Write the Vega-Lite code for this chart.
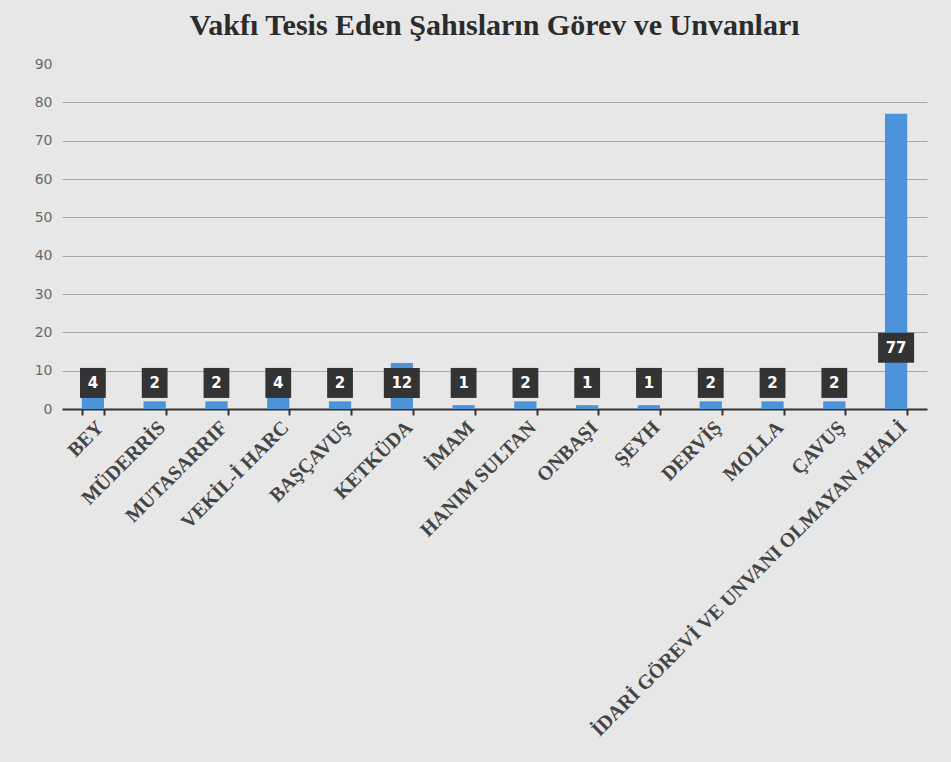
{
  "$schema": "https://vega.github.io/schema/vega-lite/v6.json",
  "autosize": "none",
  "width": 865,
  "height": 345,
  "padding": {"left": 62, "top": 64, "right": 24, "bottom": 353},
  "background": "#e7e7e7",
  "title": {
    "text": "Vakfı Tesis Eden Şahısların Görev ve Unvanları",
    "font": "Liberation Serif",
    "fontSize": 30,
    "fontWeight": "bold",
    "color": "#2b2b2b",
    "anchor": "middle",
    "offset": 16
  },
  "config": {
    "view": {"stroke": null},
    "axisY": {
      "title": null,
      "values": [0, 10, 20, 30, 40, 50, 60, 70, 80, 90],
      "labelFont": "DejaVu Sans",
      "labelFontSize": 14,
      "labelColor": "#6a6a6a",
      "labelPadding": 10,
      "ticks": false,
      "domain": false,
      "grid": true,
      "gridColor": "#a8a8a8",
      "gridWidth": 1.2,
      "gridOpacity": {"condition": {"test": "datum.value === 90 || datum.value === 0", "value": 0}, "value": 1}
    }
  },
  "data": {
    "values": [
      {"unvan": "BEY", "sayi": 4},
      {"unvan": "MÜDERRİS", "sayi": 2},
      {"unvan": "MUTASARRIF", "sayi": 2},
      {"unvan": "VEKİL-İ HARC", "sayi": 4},
      {"unvan": "BAŞÇAVUŞ", "sayi": 2},
      {"unvan": "KETKÜDA", "sayi": 12},
      {"unvan": "İMAM", "sayi": 1},
      {"unvan": "HANIM SULTAN", "sayi": 2},
      {"unvan": "ONBAŞI", "sayi": 1},
      {"unvan": "ŞEYH", "sayi": 1},
      {"unvan": "DERVİŞ", "sayi": 2},
      {"unvan": "MOLLA", "sayi": 2},
      {"unvan": "ÇAVUŞ", "sayi": 2},
      {"unvan": "İDARİ GÖREVİ VE UNVANI OLMAYAN AHALİ", "sayi": 77}
    ]
  },
  "encoding": {
    "x": {
      "field": "unvan",
      "type": "nominal",
      "sort": null,
      "scale": {"paddingInner": 0.64, "paddingOuter": 0.32},
      "axis": {
        "title": null,
        "labelAngle": -45,
        "labelFont": "Liberation Serif",
        "labelFontWeight": "bold",
        "labelFontSize": 20,
        "labelColor": "#444444",
        "labelLimit": 0,
        "labelPadding": 2,
        "tickBand": "extent",
        "tickColor": "#333333",
        "tickSize": 6,
        "tickWidth": 2,
        "domainColor": "#333333",
        "domainWidth": 2
      }
    }
  },
  "layer": [
    {
      "mark": {"type": "bar", "color": "#4d93d9"},
      "encoding": {
        "y": {"field": "sayi", "type": "quantitative", "scale": {"domain": [0, 90]}, "title": null}
      }
    },
    {
      "transform": [{"calculate": "datum.sayi > 50 ? 16 : 6.8", "as": "etiketY"}],
      "mark": {"type": "point", "filled": true, "color": "#333333", "opacity": 1, "size": 900},
      "encoding": {
        "y": {"field": "etiketY", "type": "quantitative", "title": null},
        "shape": {
          "condition": {"test": "datum.sayi >= 10", "value": "M-1.2,-1H1.2V1H-1.2Z"},
          "value": "M-0.86,-1H0.86V1H-0.86Z"
        }
      }
    },
    {
      "transform": [{"calculate": "datum.sayi > 50 ? 16 : 6.8", "as": "etiketY"}],
      "mark": {"type": "text", "color": "white", "font": "DejaVu Sans", "fontWeight": "bold", "fontSize": 15, "baseline": "middle"},
      "encoding": {
        "y": {"field": "etiketY", "type": "quantitative", "title": null},
        "text": {"field": "sayi", "type": "quantitative"}
      }
    }
  ]
}
